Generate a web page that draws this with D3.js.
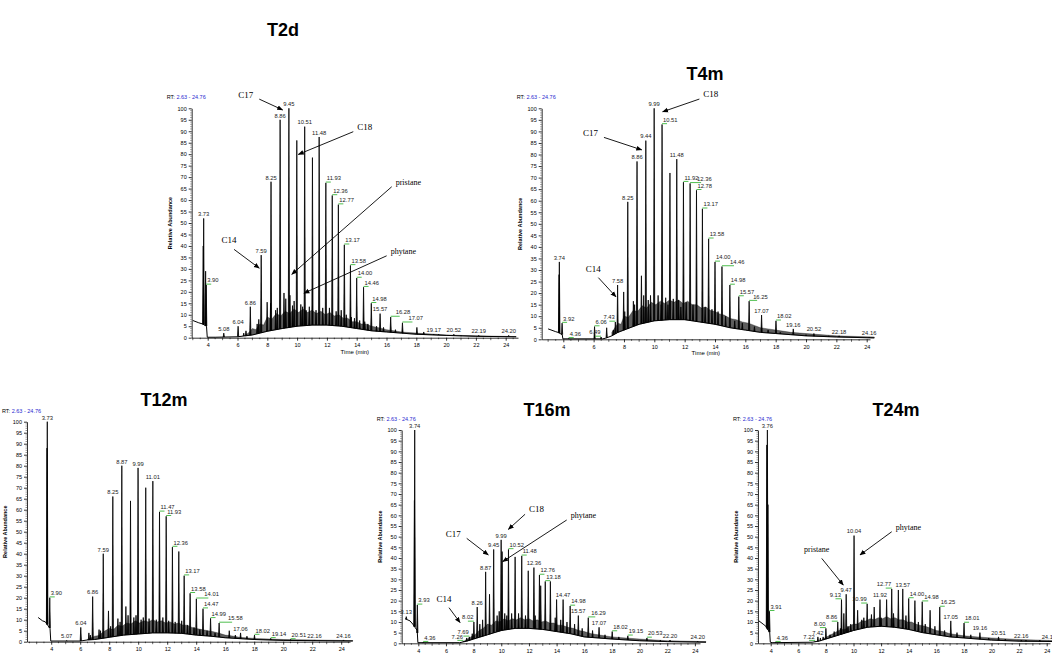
<!DOCTYPE html>
<html>
<head>
<meta charset="utf-8">
<script src="https://cdn.jsdelivr.net/npm/d3@7"></script>
<style>
  body { margin: 0; background: #fff; }
  svg { display: block; }
</style>
</head>
<body>
<svg id="fig" width="1052" height="655"></svg>
<script>
// retention time (min), relative abundance (%), peak label
var t2dPeaks = [
  [3.70, 40, null], [3.73, 52, "3.73"], [3.86, 29, null], [3.90, 23, "3.90"],
  [5.08, 2, "5.08"], [6.04, 5, "6.04"], [6.86, 13.5, "6.86"], [7.59, 36, "7.59"],
  [8.25, 68, "8.25"], [8.86, 95, "8.86"], [9.45, 100, "9.45"], [9.98, 86, null],
  [10.51, 92, "10.51"], [11.03, 78.5, null], [11.48, 87.5, "11.48"], [11.93, 67.5, "11.93"],
  [12.36, 62, "12.36"], [12.77, 58, "12.77"], [13.17, 40.5, "13.17"], [13.58, 31.5, "13.58"],
  [14.00, 26, "14.00"], [14.46, 22, "14.46"], [14.98, 15, "14.98"], [15.57, 10.5, "15.57"],
  [16.28, 9, "16.28"], [17.07, 6.5, "17.07"], [19.17, 1.5, "19.17"], [20.52, 1.5, "20.52"],
  [22.19, 1, "22.19"], [24.20, 1, "24.20"]
];
var t2dMinor = [
  [6.42, 2], [6.57, 3], [7.32, 6], [7.43, 8], [7.99, 15.5], [8.22, 15], [8.56, 12], [8.67, 13],
  [9.12, 19.5], [9.24, 17], [9.52, 18.5], [9.69, 14], [9.8, 16], [10.25, 14.5], [10.37, 13.5],
  [10.6, 12], [10.82, 13.5], [11.27, 12], [11.72, 13], [12.17, 13], [12.62, 11.5], [12.96, 12],
  [13.3, 10], [13.64, 9], [13.85, 8.5], [14.2, 7.5], [14.54, 7], [14.75, 6], [15.33, 5],
  [15.8, 4.5], [16.6, 3.5], [18.04, 4.5], [18.5, 2.5], [19.5, 1.5], [21, 1]
];
var t2dBase = [
  [3.0, 7.5], [3.4, 6.5], [3.65, 6], [3.92, 5], [3.97, 0.2], [4.5, 0.2], [6, 0.4], [6.5, 0.8],
  [7, 1.2], [7.5, 2], [8, 2.8], [9, 4], [10, 5], [11, 5.5], [12, 5.5], [13, 5], [14, 4],
  [15, 3], [16, 2.5], [17, 2], [18, 1.5], [20, 1], [22, 0.6], [24.7, 0.4]
];
var t2dGrass = [
  [6.5, 0.8], [6.8, 2.5], [7, 4], [7.25, 3.5], [7.5, 6], [7.75, 5.5], [8, 9], [8.3, 8],
  [8.6, 10.5], [8.9, 9.5], [9.2, 11.5], [9.5, 10.5], [9.8, 12.5], [10.1, 11], [10.4, 12.5],
  [10.7, 11], [11, 12], [11.3, 10.5], [11.6, 11.5], [11.9, 10], [12.2, 11], [12.5, 9.5],
  [12.8, 10], [13.1, 8.5], [13.4, 8.5], [13.7, 7], [14, 7], [14.3, 6], [14.6, 6], [15, 5],
  [15.4, 4.5], [16, 3.5], [16.5, 3], [17, 2.5], [18, 2], [20, 1.2], [22, 0.8], [24.7, 0.5]
];
var t2dGreen = ["3.90", "11.93", "12.36", "12.77", "13.17", "13.58", "14.00", "14.46", "14.98", "16.28", "17.07"];
// text, arrow tail (rt, %), arrow tip (rt, %), side of the text
var t2dNotes = [
  ["C17", 7.46, 104, 9.03, 99.3, "left"],
  ["C18", 13.77, 89.8, 10.08, 79.9, "right"],
  ["pristane", 16.35, 65.8, 9.64, 27.6, "right"],
  ["phytane", 16.01, 35.7, 10.46, 19.4, "right"],
  ["C14", 5.77, 38.5, 7.46, 30.3, "above"]
];

var t4mPeaks = [
  [3.72, 28, null], [3.74, 33.5, "3.74"], [3.92, 7, "3.92"], [4.36, 0.4, "4.36"],
  [6.06, 5.5, "6.06"], [6.49, 1, "6.49"], [7.43, 7.5, "7.43"], [7.58, 23.5, "7.58"],
  [8.25, 59.5, "8.25"], [8.86, 77, "8.86"], [9.44, 86, "9.44"], [9.99, 100, "9.99"],
  [10.51, 93, "10.51"], [11.03, 72, null], [11.48, 78, "11.48"], [11.92, 68, "11.92"],
  [12.36, 67.5, "12.36"], [12.78, 64.5, "12.78"], [13.17, 56.5, "13.17"], [13.58, 43.5, "13.58"],
  [14.00, 33.5, "14.00"], [14.46, 31.5, "14.46"], [14.98, 23.5, "14.98"], [15.57, 18.5, "15.57"],
  [16.25, 16.5, "16.25"], [17.07, 10.5, "17.07"], [18.02, 8, "18.02"], [19.16, 4.5, "19.16"],
  [20.52, 2.5, "20.52"], [22.18, 1.5, "22.18"], [24.16, 1, "24.16"]
];
var t4mMinor = [
  [6.86, 5], [7.3, 4], [7.98, 20.5], [8.05, 12], [8.62, 16.5], [8.7, 15], [9.15, 27.5], [9.3, 19],
  [9.6, 17], [9.75, 19], [10.25, 19], [10.45, 15], [10.75, 18], [10.9, 15], [11.25, 17.5],
  [11.6, 17], [11.75, 14], [12.1, 16], [12.55, 15], [13.35, 14], [13.8, 13], [14.2, 12],
  [14.7, 10], [15.3, 8], [15.8, 7], [16.6, 5.5], [17.5, 4], [18.3, 3], [20, 2], [21.5, 1.5]
];
var t4mBase = [
  [3.0, 4.5], [3.5, 3.3], [3.65, 3], [3.93, 2], [3.97, 0.2], [6.6, 0.2], [6.8, 0.5], [7.2, 1.5],
  [7.6, 3], [8, 4], [9, 6.5], [10, 8], [11, 8.5], [12, 8.5], [13, 7.5], [14, 6.5], [15, 5],
  [16, 4], [17, 3], [18, 2.5], [19, 2], [20, 1.5], [22, 1], [24.5, 0.6]
];
var t4mGrass = [
  [7.2, 3], [7.4, 5], [7.6, 7], [7.8, 6.5], [8, 10], [8.3, 9.5], [8.6, 12.5], [8.9, 12],
  [9.2, 14.5], [9.5, 13.5], [9.8, 16], [10.1, 15], [10.4, 16.5], [10.7, 15.5], [11, 17],
  [11.3, 16], [11.6, 17], [11.9, 15.5], [12.2, 16.5], [12.5, 15], [12.8, 15], [13.1, 13.5],
  [13.4, 14], [13.7, 12.5], [14, 12], [14.3, 11], [14.6, 10.5], [15, 9], [15.4, 8.5],
  [15.8, 7.5], [16.2, 7], [16.6, 6], [17, 5], [17.5, 4.5], [18, 4], [19, 3], [20, 2.5],
  [22, 1.5], [24.5, 1]
];
var t4mGreen = ["3.92", "4.36", "6.06", "6.49", "7.43", "10.51", "11.92", "12.36", "12.78", "13.17", "13.58", "14.00", "14.46", "14.98", "15.57", "16.25", "18.02"];
var t4mNotes = [
  ["C18", 12.97, 104, 10.55, 98.5, "right"],
  ["C17", 6.68, 87.4, 9.17, 82, "left"],
  ["C14", 6.31, 26.7, 7.47, 18.4, "above"]
];

var t12mPeaks = [
  [3.71, 88, null], [3.73, 100, "3.73"], [3.90, 20, "3.90"], [5.07, 0.5, "5.07"],
  [6.04, 6.5, "6.04"], [6.86, 20.5, "6.86"], [7.59, 40, "7.59"], [8.25, 66, "8.25"],
  [8.87, 80, "8.87"], [9.47, 64, null], [9.99, 79, "9.99"], [10.52, 70, null],
  [11.01, 73, "11.01"], [11.47, 59, "11.47"], [11.93, 57, "11.93"], [12.36, 43, "12.36"],
  [12.80, 41, null], [13.17, 30, "13.17"], [13.58, 22, "13.58"], [14.01, 19.5, "14.01"],
  [14.47, 15, "14.47"], [14.99, 10.6, "14.99"], [15.58, 8.5, "15.58"], [16.28, 5, null],
  [17.06, 4, "17.06"], [18.02, 3, "18.02"], [19.14, 1.5, "19.14"], [20.51, 1, "20.51"],
  [22.16, 0.8, "22.16"], [24.16, 0.8, "24.16"]
];
var t12mMinor = [
  [6.6, 4], [6.7, 3], [7.3, 5.5], [7.4, 5], [7.95, 14], [8.1, 7], [8.6, 10.5], [8.75, 9],
  [9.15, 16], [9.3, 12], [9.7, 11], [9.85, 12], [10.2, 10], [10.35, 11], [10.75, 10.5],
  [11.25, 10], [11.7, 11], [12.1, 9.5], [12.55, 9], [13.0, 9.5], [13.4, 7.5], [13.85, 6.5],
  [14.25, 5.5], [14.75, 5], [15.3, 4], [16.7, 3], [17.5, 2.5]
];
var t12mBase = [
  [3.1, 11], [3.4, 9.5], [3.6, 9], [3.92, 6], [3.97, 0.3], [6, 0.3], [6.5, 0.8], [7, 1],
  [8, 2], [9, 3], [10, 3.5], [11, 4], [12, 4], [13, 3.8], [14, 3], [15, 2.5], [16, 1.8],
  [18, 1], [20, 0.6], [24.8, 0.3]
];
var t12mGrass = [
  [6.5, 1], [7, 2.5], [7.3, 2.8], [7.6, 4.5], [8, 6], [8.3, 5.5], [8.6, 7.5], [8.9, 7],
  [9.2, 8.5], [9.5, 8], [9.8, 9.5], [10.1, 8.5], [10.4, 9.5], [10.7, 9], [11, 10], [11.3, 9],
  [11.6, 9.5], [11.9, 8.5], [12.2, 9], [12.5, 8], [12.8, 8.5], [13.1, 7.5], [13.4, 7.5],
  [13.7, 6.5], [14, 6], [14.4, 5.5], [14.8, 5], [15.2, 4.5], [15.6, 3.8], [16, 3],
  [16.5, 2.6], [17, 2], [18, 1.5], [20, 1], [24.8, 0.5]
];
var t12mGreen = ["3.90", "11.47", "11.93", "12.36", "13.17", "13.58", "14.01", "14.47", "14.99", "15.58", "18.02", "19.14", "20.51"];
var t12mNotes = [];

var t16mPeaks = [
  [3.13, 12.5, "3.13"], [3.72, 67, null], [3.74, 100, "3.74"], [3.93, 18, "3.93"],
  [4.36, 0.5, "4.36"], [7.26, 1, "7.26"], [7.69, 3, "7.69"], [8.02, 10, "8.02"],
  [8.26, 17, "8.26"], [8.87, 33.5, "8.87"], [9.45, 44, "9.45"], [9.99, 48.5, "9.99"],
  [10.06, 43, null], [10.52, 44, "10.52"], [11.0, 40.5, null], [11.48, 41, "11.48"],
  [11.95, 34, null], [12.36, 35.5, "12.36"], [12.76, 32, "12.76"], [13.18, 29, "13.18"],
  [13.55, 29, null], [14.0, 20.5, null], [14.47, 20.5, "14.47"], [14.98, 17.5, "14.98"],
  [15.57, 13, "15.57"], [16.29, 12, "16.29"], [17.07, 7.5, "17.07"], [18.02, 5.5, "18.02"],
  [19.15, 3.5, "19.15"], [20.53, 2.5, "20.53"], [22.20, 1.5, "22.20"], [24.20, 1, "24.20"]
];
var t16mMinor = [
  [7.5, 2.5], [7.9, 4.5], [8.45, 9], [8.65, 11], [9.15, 23], [9.7, 13], [9.85, 15], [10.25, 14],
  [10.4, 13], [10.75, 14], [11.25, 14], [11.75, 13], [12.45, 13], [12.85, 27], [13.9, 12],
  [14.3, 11], [14.75, 10], [15.3, 9], [15.85, 7], [16.6, 6], [17.5, 4], [18.5, 3], [21.5, 1.5]
];
var t16mBase = [
  [3.05, 11.5], [3.4, 10.5], [3.6, 9], [3.92, 6], [3.97, 0.3], [7, 0.3], [7.5, 1], [8, 2],
  [9, 4], [10, 6], [11, 7], [12, 7], [13, 6.5], [14, 5.5], [15, 4.5], [16, 3], [17, 2.5],
  [18, 2], [20, 1.2], [22, 0.8], [24.8, 0.5]
];
var t16mGrass = [
  [7.3, 1], [7.8, 3], [8.1, 4], [8.4, 6], [8.7, 7], [9, 9], [9.3, 8.5], [9.6, 10.5], [9.9, 10],
  [10.2, 11.5], [10.5, 10.5], [10.8, 11.5], [11.1, 11], [11.4, 12], [11.7, 11], [12, 11.5],
  [12.3, 10.5], [12.6, 11], [12.9, 10], [13.2, 10.5], [13.5, 9.5], [13.8, 9.5], [14.1, 8.5],
  [14.4, 8.5], [14.8, 7.5], [15.2, 7], [15.6, 6], [16, 5.5], [16.5, 4.5], [17, 4], [18, 3],
  [20, 2], [22, 1.2], [24.8, 0.8]
];
var t16mGreen = ["3.93", "4.36", "7.26", "7.69", "8.02", "10.52", "11.48", "12.76", "13.18", "14.98", "16.29", "18.02", "19.15", "20.53"];
var t16mNotes = [
  ["C18", 11.72, 60.5, 10.51, 53.4, "right"],
  ["phytane", 14.73, 57.8, 10.1, 38.3, "right"],
  ["C17", 7.5, 49.2, 9.06, 41.4, "left"],
  ["C14", 6.22, 16.7, 7.02, 9.7, "above"]
];

var t24mPeaks = [
  [3.72, 93, null], [3.76, 100, "3.76"], [3.80, 65, null], [3.91, 15, "3.91"],
  [4.36, 0.5, "4.36"], [7.22, 1, "7.22"], [7.42, 3, "7.42"], [8.00, 7, "8.00"],
  [8.86, 10, "8.86"], [9.13, 20.5, "9.13"], [9.47, 23, "9.47"], [10.04, 50.5, "10.04"],
  [10.99, 18.5, "10.99"], [11.92, 20.5, "11.92"], [12.77, 25.5, "12.77"], [13.25, 25, null],
  [13.57, 25.5, "13.57"], [14.00, 21, "14.00"], [14.45, 20, null], [14.98, 19.5, "14.98"],
  [15.55, 15.5, null], [16.25, 17, "16.25"], [17.05, 10.5, "17.05"], [18.01, 9.5, "18.01"],
  [19.16, 5, "19.16"], [20.51, 3, "20.51"], [22.16, 1.5, "22.16"], [24.16, 1, "24.16"]
];
var t24mMinor = [
  [7.6, 2.5], [7.8, 3], [8.3, 4], [8.6, 5.5], [9.05, 7], [9.3, 14], [9.6, 8], [9.8, 9],
  [10.3, 15.5], [10.6, 11], [10.75, 12], [11.3, 13.5], [11.5, 17], [12.0, 12], [12.4, 20.5],
  [12.9, 14], [13.8, 13], [14.7, 10], [15.2, 9], [15.9, 8], [16.6, 6], [17.5, 5], [18.5, 4],
  [19.8, 2.5], [21, 2], [22.5, 1.5], [23.5, 1.5]
];
var t24mBase = [
  [3.15, 10.5], [3.45, 9], [3.65, 8], [3.93, 5], [3.97, 0.5], [4.1, 0.3], [7, 0.5], [7.5, 1],
  [8, 2], [9, 4], [10, 6], [11, 7.5], [12, 8], [13, 7.5], [14, 6.5], [15, 5], [16, 4],
  [17, 3], [18, 2.5], [20, 1.5], [22, 1], [24.9, 0.8]
];
var t24mGrass = [
  [7.8, 2], [8.2, 3.5], [8.5, 4.5], [8.8, 5.5], [9.1, 6.5], [9.4, 6.5], [9.7, 8], [10, 9],
  [10.3, 9], [10.6, 10.5], [10.9, 10.5], [11.2, 11.5], [11.5, 11], [11.8, 12], [12.1, 11.5],
  [12.4, 12.5], [12.7, 11.5], [13, 12], [13.3, 11], [13.6, 11], [13.9, 10], [14.2, 10],
  [14.5, 9], [14.8, 8.5], [15.2, 8], [15.6, 7], [16, 6], [16.5, 5.5], [17, 4.5], [18, 3.5],
  [19, 3], [20, 2.5], [22, 1.8], [24.9, 1.2]
];
var t24mGreen = ["3.91", "4.36", "7.22", "8.00", "8.86", "9.13", "10.99", "12.77", "14.00", "14.98", "16.25", "18.01"];
var t24mNotes = [
  ["phytane", 12.77, 52.3, 10.47, 41.4, "right"],
  ["pristane", 7.7, 39.8, 9.26, 27.3, "above"]
];

var yTicks = d3.range(0, 101, 5);
var rtRange = "2.63 - 24.76";

var sans = '"Liberation Sans", Arial, sans-serif';
var serif = '"Liberation Serif", "Times New Roman", serif';

// layout of the five panels (pixels); left = labels set to the left of their peak,
// push = extra offset (px) of labels pushed right along a long green leader
var panels = [
  {title: "T2d",  tx: 283, ty: 36,  peaks: t2dPeaks,  minor: t2dMinor,  base: t2dBase,  grass: t2dGrass,  green: t2dGreen,  notes: t2dNotes,
   ax: 191.7, x4: 207.7, ppm: 14.9,  right: 518,  y0: 337.7, y100: 108.3, xTitle: true,
   left: [], push: {"16.28": 4, "17.07": 5}},
  {title: "T4m",  tx: 705, ty: 80,  peaks: t4mPeaks,  minor: t4mMinor,  base: t4mBase,  grass: t4mGrass,  green: t4mGreen,  notes: t4mNotes,
   ax: 541.7, x4: 563.3, ppm: 15.17, right: 870,  y0: 339.3, y100: 108.3, xTitle: true,
   left: ["6.49", "7.43"], push: {"6.06": 0, "12.36": 6, "14.46": 7, "16.25": 3}},
  {title: "T12m", tx: 164, ty: 406, peaks: t12mPeaks, minor: t12mMinor, base: t12mBase, grass: t12mGrass, green: t12mGreen, notes: t12mNotes,
   ax: 27,    x4: 51.2,  ppm: 14.5,  right: 350,  y0: 641.7, y100: 421.7, xTitle: false,
   left: [], push: {"14.01": 7, "15.58": 8}},
  {title: "T16m", tx: 547, ty: 416, peaks: t16mPeaks, minor: t16mMinor, base: t16mBase, grass: t16mGrass, green: t16mGreen, notes: t16mNotes,
   ax: 401.7, x4: 418.3, ppm: 13.83, right: 700,  y0: 643.3, y100: 430, xTitle: false,
   left: ["7.26", "7.69", "8.02"], push: {"16.29": 2}},
  {title: "T24m", tx: 896, ty: 416, peaks: t24mPeaks, minor: t24mMinor, base: t24mBase, grass: t24mGrass, green: t24mGreen, notes: t24mNotes,
   ax: 758,   x4: 770.7, ppm: 13.8,  right: 1050, y0: 643.3, y100: 430, xTitle: false,
   left: ["7.22", "8.00", "8.86", "9.13", "10.99", "12.77"], push: {"14.98": 1}}
];

var svg = d3.select("#fig");

svg.append("defs").append("marker")
    .attr("id", "arrow")
    .attr("viewBox", "0 0 10 10")
    .attr("refX", 9).attr("refY", 5)
    .attr("markerWidth", 6).attr("markerHeight", 6)
    .attr("markerUnits", "userSpaceOnUse")
    .attr("orient", "auto")
  .append("path")
    .attr("d", "M0,1L10,5L0,9Z")
    .attr("fill", "#000");

panels.forEach(drawPanel);

function drawPanel(p) {
  var g = svg.append("g");
  var rtL = 4 - (p.x4 - p.ax) / p.ppm;
  var rtR = 4 + (p.right - p.x4) / p.ppm;

  var x = d3.scaleLinear().domain([rtL, rtR]).range([p.ax, p.right]);
  var y = d3.scaleLinear().domain([0, 100]).range([p.y0, p.y100]);
  var baseAt = d3.scaleLinear()
      .domain(p.base.map(function(d) { return d[0]; }))
      .range(p.base.map(function(d) { return d[1]; }))
      .clamp(true);

  // title
  g.append("text")
      .attr("x", p.tx).attr("y", p.ty)
      .attr("text-anchor", "middle")
      .style("font-family", sans).style("font-weight", "bold").style("font-size", "18px")
      .text(p.title);

  // RT range
  var rt = g.append("text")
      .attr("x", Math.max(2, p.ax - 25)).attr("y", p.y100 - 9)
      .style("font-family", sans).style("font-size", "5.5px");
  rt.append("tspan").attr("fill", "#000").text("RT: ");
  rt.append("tspan").attr("fill", "#2a2ad0").text(rtRange);

  // axes
  var yAxis = d3.axisLeft(y).tickValues(yTicks).tickSize(3).tickSizeOuter(0).tickPadding(2);
  var ya = g.append("g").attr("transform", "translate(" + p.ax + ",0)").call(yAxis);
  var xTicks = d3.range(4, rtR + 0.01, 2);
  var xAxis = d3.axisBottom(x).tickValues(xTicks).tickFormat(d3.format("d"))
      .tickSize(3).tickSizeOuter(0).tickPadding(2.5);
  var xa = g.append("g").attr("transform", "translate(0," + p.y0 + ")").call(xAxis);
  [ya, xa].forEach(function(a) {
    a.selectAll("text").style("font-family", sans).style("font-size", "5.5px").attr("fill", "#000");
    a.selectAll("line, path").attr("stroke", "#000").attr("stroke-width", 0.8);
  });

  // minor ticks
  g.append("g").selectAll("line")
    .data(d3.range(Math.ceil(rtL * 2) / 2, rtR, 0.5).filter(function(v) { return v % 2 !== 0; }))
    .join("line")
      .attr("x1", function(d) { return x(d); }).attr("x2", function(d) { return x(d); })
      .attr("y1", p.y0).attr("y2", function(d) { return p.y0 + (d % 1 === 0 ? 2.5 : 1.5); })
      .attr("stroke", "#000").attr("stroke-width", 0.6);
  g.append("g").selectAll("line")
    .data(d3.range(1, 100, 1).filter(function(v) { return v % 5 !== 0; }))
    .join("line")
      .attr("x1", p.ax - 1.5).attr("x2", p.ax)
      .attr("y1", function(d) { return y(d); }).attr("y2", function(d) { return y(d); })
      .attr("stroke", "#000").attr("stroke-width", 0.4);

  g.append("text")
      .attr("transform", "translate(" + (p.ax - 20) + "," + ((p.y0 + p.y100) / 2) + ") rotate(-90)")
      .attr("text-anchor", "middle")
      .style("font-family", sans).style("font-size", "5.5px").style("font-weight", "bold")
      .text("Relative Abundance");

  if (p.xTitle) {
    g.append("text")
        .attr("x", (p.ax + p.right) / 2).attr("y", p.y0 + 16)
        .attr("text-anchor", "middle")
        .style("font-family", sans).style("font-size", "6px")
        .text("Time (min)");
  }

  // unresolved hump under the peaks
  g.append("path")
      .datum(p.grass)
      .attr("d", d3.area()
          .x(function(d) { return x(d[0]); })
          .y0(function(d) { return y(baseAt(d[0])); })
          .y1(function(d) { return y(d[1]); }))
      .attr("fill", "#1a1a1a").attr("fill-opacity", 0.7)
      .attr("stroke", "#000").attr("stroke-width", 0.4).attr("stroke-opacity", 0.8);

  g.append("path")
      .datum(p.base)
      .attr("d", d3.line()
          .x(function(d) { return x(d[0]); })
          .y(function(d) { return y(d[1]); }))
      .attr("fill", "none").attr("stroke", "#000").attr("stroke-width", 1);

  var all = p.peaks.concat(p.minor.map(function(d) { return [d[0], d[1], null]; }));
  g.append("g").selectAll("path")
    .data(all)
    .join("path")
      .attr("d", function(d) {
        var px = x(d[0]), pb = y(baseAt(d[0])), pt = y(d[1]);
        return "M" + (px - 0.6) + "," + pb + "L" + px + "," + pt + "L" + (px + 0.6) + "," + pb;
      })
      .attr("fill", "#000").attr("stroke", "#000").attr("stroke-width", 0.8);

  // peak labels
  p.peaks.filter(function(d) { return d[2]; }).forEach(function(d) {
    var px = x(d[0]), pt = y(d[1]);
    var isGreen = p.green.indexOf(d[2]) >= 0;
    var isLeft = p.left.indexOf(d[2]) >= 0;
    var push = p.push[d[2]] || 0;
    var t = g.append("text")
        .style("font-family", sans).style("font-size", "5.8px")
        .attr("fill", "#222")
        .text(d[2]);
    if (!isGreen) {
      t.attr("x", px).attr("y", pt - 2.2).attr("text-anchor", "middle");
      return;
    }
    var bx1 = isLeft ? px - 6 : px, bx2 = isLeft ? px : px + 5 + push;
    g.append("line")
        .attr("x1", bx1).attr("x2", bx2)
        .attr("y1", pt - 0.8).attr("y2", pt - 0.8)
        .attr("stroke", "#3cb83c").attr("stroke-width", 0.9);
    if (isLeft) t.attr("x", px - 0.5).attr("text-anchor", "end");
    else t.attr("x", px + 1 + push).attr("text-anchor", "start");
    t.attr("y", pt - 2.6);
  });

  // annotations
  p.notes.forEach(function(n) {
    var tx = x(n[1]), ty = y(n[2]);
    g.append("line")
        .attr("x1", tx).attr("y1", ty)
        .attr("x2", x(n[3])).attr("y2", y(n[4]))
        .attr("stroke", "#000").attr("stroke-width", 0.9)
        .attr("marker-end", "url(#arrow)");
    var t = g.append("text")
        .style("font-family", serif).style("font-size", n[0].length > 3 ? "8px" : "9px")
        .text(n[0]);
    if (n[5] === "left") t.attr("x", tx - 6).attr("y", ty - 1).attr("text-anchor", "end");
    else if (n[5] === "right") t.attr("x", tx + 4).attr("y", ty - 2).attr("text-anchor", "start");
    else t.attr("x", tx - 5).attr("y", ty - 6).attr("text-anchor", "middle");
  });
}
</script>
</body>
</html>
